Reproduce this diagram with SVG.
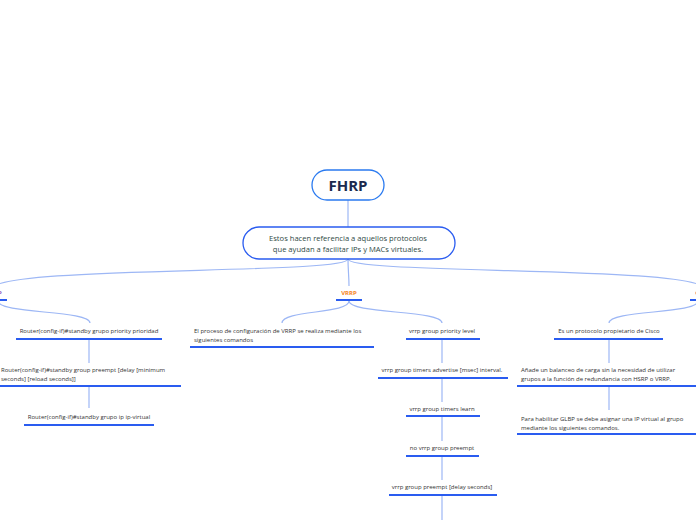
<svg xmlns="http://www.w3.org/2000/svg" width="696" height="520" viewBox="0 0 696 520">
<style>
.c{fill:none;stroke:#9db7f5;stroke-width:1.2}
.u{stroke:#2a5cf0;stroke-width:2}
.t{font-family:"Open Sans","Noto Sans",sans-serif;font-size:6px;fill:#333}
.m{text-anchor:middle}
.lbl{font-family:"Open Sans","Noto Sans",sans-serif;font-size:6px;font-weight:bold;text-anchor:middle}
</style>
<rect width="696" height="520" fill="#fff"/>
<g id="connectors">
<path class="c" d="M348,200 V227"/>
<path class="c" d="M348,259 C348,275 -10,265 -10,290"/>
<path class="c" d="M348,259 C348,275 706,265 706,290"/>
<path class="c" d="M348,259 C348,270 349,276 349,286"/>
<path class="c" d="M-2,301 C-2,314 90,310 90,323"/>
<path class="c" d="M349,301 C349,314 282,310 282,323"/>
<path class="c" d="M349,301 C349,314 442,310 442,323"/>
<path class="c" d="M698,301 C698,314 609,310 609,323"/>
<path class="c" d="M89,340 V363 M89,387 V408"/>
<path class="c" d="M442,340 V363 M442,379 V402 M442,417 V441 M442,457 V480 M442,496 V520"/>
<path class="c" d="M609,340 V363 M609,387 V410"/>
</g>
<g id="fhrp">
<rect x="312" y="170" width="72" height="30" rx="15" fill="#fff" stroke="#2a7af0" stroke-width="1.3"/>
<text x="348" y="190.5" font-family="Open Sans,Noto Sans,sans-serif" font-size="15" font-weight="bold" fill="#1b2a4e" text-anchor="middle">FHRP</text>
</g>
<g id="desc">
<rect x="243" y="227" width="212" height="32" rx="16" fill="#fff" stroke="#2a5cf0" stroke-width="1.3"/>
<text font-family="Open Sans,Noto Sans,sans-serif" font-size="7.6" fill="#2f4a45" text-anchor="middle"><tspan x="348" y="241">Estos hacen referencia a aquellos protocolos</tspan><tspan x="348" y="252">que ayudan a facilitar IPs y MACs virtuales.</tspan></text>
</g>
<g id="hsrp">
<text class="lbl" x="-6" y="295" style="fill:#8a4fc0">HSRP</text>
<line class="u" x1="-25" y1="300" x2="7" y2="300"/>
</g>
<g id="vrrp">
<text class="lbl" x="349" y="295" style="fill:#f58220">VRRP</text>
<line class="u" x1="336" y1="300" x2="362" y2="300"/>
</g>
<g id="glbp">
<text class="lbl" x="703" y="295" style="fill:#c83a5a">GLBP</text>
<line class="u" x1="690" y1="300" x2="722" y2="300"/>
</g>
<g id="h1"><text class="t m" x="89" y="333">Router(config-if)#standby grupo priority prioridad</text><line class="u" x1="16" y1="339" x2="162" y2="339"/></g>
<g id="h2"><text class="t"><tspan x="1" y="372">Router(config-if)#standby group preempt [delay [minimum</tspan><tspan x="1" y="381">seconds] [reload seconds]]</tspan></text><line class="u" x1="-1" y1="386" x2="181" y2="386"/></g>
<g id="h3"><text class="t m" x="89" y="419">Router(config-if)#standby grupo ip ip-virtual</text><line class="u" x1="24" y1="425" x2="154" y2="425"/></g>
<g id="v1"><text class="t"><tspan x="194" y="333">El proceso de configuración de VRRP se realiza mediante los</tspan><tspan x="194" y="342">siguientes comandos</tspan></text><line class="u" x1="190" y1="347" x2="374" y2="347"/></g>
<g id="v2"><text class="t m" x="442" y="333">vrrp group priority level</text><line class="u" x1="406" y1="339" x2="480" y2="339"/></g>
<g id="v3"><text class="t m" x="442" y="372">vrrp group timers advertise [msec] interval.</text><line class="u" x1="378" y1="378" x2="508" y2="378"/></g>
<g id="v4"><text class="t m" x="442" y="411">vrrp group timers learn</text><line class="u" x1="406" y1="416" x2="480" y2="416"/></g>
<g id="v5"><text class="t m" x="442" y="450">no vrrp group preempt</text><line class="u" x1="406" y1="456" x2="479" y2="456"/></g>
<g id="v6"><text class="t m" x="442" y="489">vrrp group preempt [delay seconds]</text><line class="u" x1="389" y1="495" x2="497" y2="495"/></g>
<g id="g1"><text class="t m" x="609" y="333">Es un protocolo propietario de Cisco</text><line class="u" x1="554" y1="339" x2="663" y2="339"/></g>
<g id="g2"><text class="t"><tspan x="521" y="372">Añade un balanceo de carga sin la necesidad de utilizar</tspan><tspan x="521" y="381">grupos a la función de redundancia con HSRP o VRRP.</tspan></text><line class="u" x1="517" y1="386" x2="700" y2="386"/></g>
<g id="g3"><text class="t"><tspan x="521" y="421">Para habilitar GLBP se debe asignar una IP virtual al grupo</tspan><tspan x="521" y="430">mediante los siguientes comandos.</tspan></text><line class="u" x1="517" y1="434" x2="700" y2="434"/></g>
</svg>
